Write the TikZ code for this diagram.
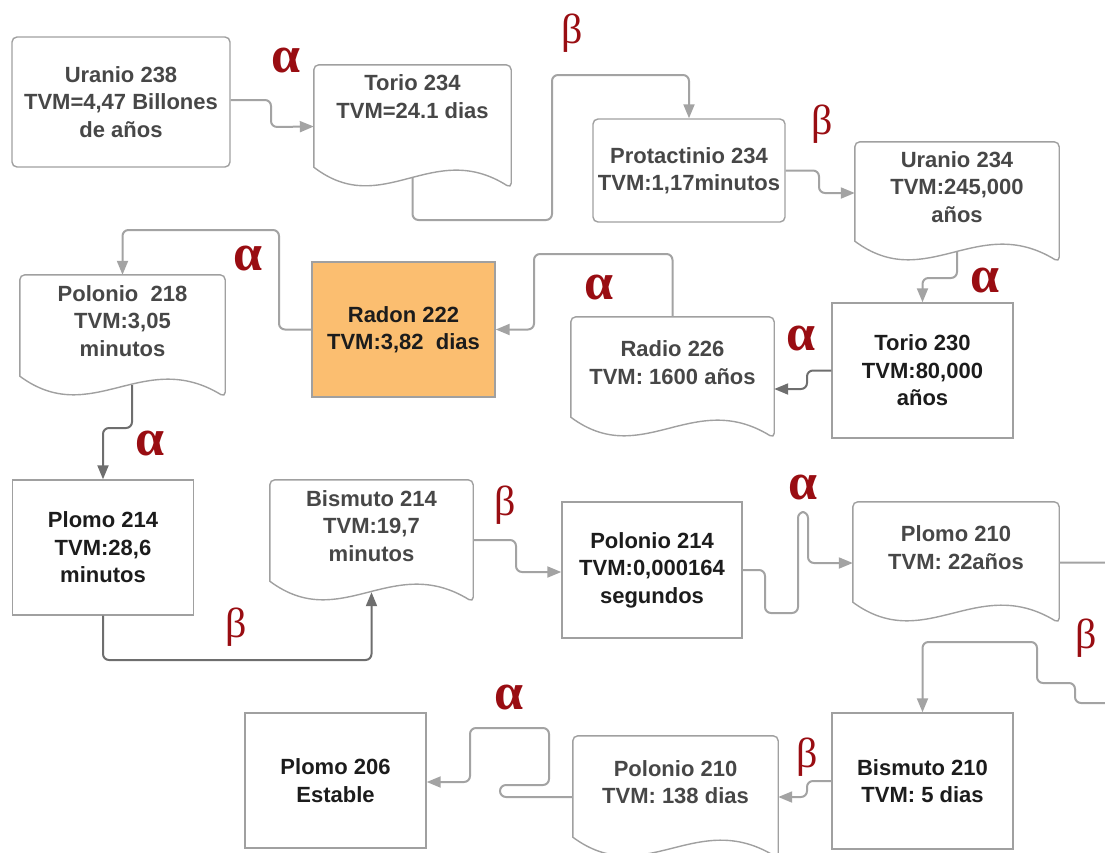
\documentclass[tikz,border=0pt]{standalone}
\usepackage{fontspec}
\setmainfont{Liberation Sans}
\newfontfamily\greekserif{Liberation Serif}
\usetikzlibrary{arrows.meta,calc}
\definecolor{boxgray}{HTML}{A0A0A0}
\definecolor{linegray}{HTML}{A3A3A3}
\definecolor{linedark}{HTML}{6E6E6E}
\definecolor{txtgray}{HTML}{474747}
\definecolor{txtdark}{HTML}{1C1C1C}
\definecolor{radonfill}{HTML}{FBBE70}
\definecolor{decayred}{HTML}{990D12}

\tikzset{
  base/.style={rectangle, inner sep=0pt, align=center,
               font=\bfseries\fontsize{22}{27.5}\selectfont},
  rbox/.style={base, draw=boxgray, line width=1.4pt, rounded corners=5pt, text=txtgray},
  sbox/.style={base, draw=boxgray, line width=1.4pt, text=txtdark},
  docbox/.style={base, text=txtgray, text depth=30pt,
    append after command={\pgfextra{
      \draw[boxgray, line width=1.4pt]
      ([yshift=21pt]\tikzlastnode.south west) [rounded corners=5pt]
      -- (\tikzlastnode.north west) -- (\tikzlastnode.north east)
      -- (\tikzlastnode.south east) [sharp corners]
      .. controls ($(\tikzlastnode.south west)!0.6!(\tikzlastnode.south east)+(0,-50)$)
      and ($(\tikzlastnode.south west)!0.35!(\tikzlastnode.south east)+(0,32)$)
      .. ([yshift=21pt]\tikzlastnode.south west) -- cycle;}}},
  flow/.style={draw=linegray, line width=2pt, rounded corners=6pt,
               -{Triangle[length=14pt,width=11pt]}},
  flowdark/.style={flow, draw=linedark},
  greek/.style={text=decayred, inner sep=0pt, font=\greekserif\fontsize{42}{42}\selectfont},
  greekbold/.style={greek, font=\greekserif\bfseries\fontsize{52}{52}\selectfont}
}

\begin{document}
\begin{tikzpicture}[x=1pt, y=-1pt]
\useasboundingbox (0,0) rectangle (1105,852);
\clip (0,0) rectangle (1105,852);

% fila 1
\node[rbox, minimum width=218pt, minimum height=130pt] (u238) at (121,102) {Uranio 238\\TVM=4,47 Billones\\de años};
\node[docbox, minimum width=197pt, minimum height=123pt, text depth=60pt] (t234) at (412.5,126.5) {Torio 234\\TVM=24.1 dias};
\node[rbox, minimum width=192pt, minimum height=103pt] (p234) at (689,170.5) {Protactinio 234\\TVM:1,17minutos};
\node[docbox, minimum width=204pt, minimum height=120pt] (u234) at (957,202) {Uranio 234\\TVM:245,000\\años};

% fila 2
\node[docbox, minimum width=205pt, minimum height=122pt] (po218) at (122.5,336) {Polonio~ 218\\TVM:3,05\\minutos};
\node[sbox, minimum width=183pt, minimum height=135pt, fill=radonfill] (ra222) at (403.5,329.5) {Radon 222\\TVM:3,82~ dias};
\node[docbox, minimum width=203pt, minimum height=121pt] (rd226) at (672.5,377.5) {Radio 226\\TVM: 1600 años};
\node[sbox, minimum width=181pt, minimum height=135pt] (t230) at (922.5,370.5) {Torio 230\\TVM:80,000\\años};

% fila 3
\node[sbox, minimum width=181pt, minimum height=135pt] (pb214) at (103,547.5) {Plomo 214\\TVM:28,6\\minutos};
\node[docbox, minimum width=203pt, minimum height=122pt] (bi214) at (371.5,541) {Bismuto 214\\TVM:19,7\\minutos};
\node[sbox, minimum width=180pt, minimum height=136pt] (po214) at (652,570) {Polonio 214\\TVM:0,000164\\segundos};
\node[docbox, minimum width=206pt, minimum height=121pt] (pb210) at (956,562.5) {Plomo 210\\TVM: 22años};

% fila 4
\node[sbox, minimum width=181pt, minimum height=135pt] (pb206) at (335.5,780.5) {Plomo 206\\Estable};
\node[docbox, minimum width=205pt, minimum height=122pt] (po210) at (675.5,797) {Polonio 210\\TVM: 138 dias};
\node[sbox, minimum width=181pt, minimum height=136pt] (bi210) at (922.5,781) {Bismuto 210\\TVM: 5 dias};

% desintegraciones
\draw[flow] (u238.east |- 0,100) -- (271,100) -- (271,127) -- (t234.west);
\draw[flow] ($(t234.south)+(0,-10)$) -- (412.5,220) -- (552,220) -- (552,75)
  -- (689,75) -- (p234.north);
\draw[flow] (p234.east) -- (819,170.5) -- (819,193) -- (u234.west |- 0,193);
\draw[flow] ($(u234.south)+(0,-10)$) -- (957,278) -- (922.5,278) -- (t230.north);
\draw[flowdark] (t230.west) -- (807,370.5) -- (807,389) -- (rd226.east |- 0,389);
\draw[flow] (rd226.north) -- (672.5,254) -- (534,254) -- (534,329.5) -- (ra222.east);
\draw[flow] (ra222.west) -- (279,329.5) -- (279,230) -- (122.5,230) -- (po218.north);
\draw[flowdark] ($(po218.south)+(9.5,-12)$) -- (132,428) -- (103,428) -- (pb214.north);
\draw[flowdark] (pb214.south) -- (103,660) -- (371.5,660) -- ($(bi214.south)+(0,-10)$);
\draw[flow] (bi214.east |- 0,540) -- (516,540) -- (516,572) -- (po214.west |- 0,572);
\draw[flow] (po214.east) -- (765,570) -- (765,613) -- (798,613) -- (798,512)
  -- (808,512) -- (808,563) -- (pb210.west |- 0,563);
\draw[flow] (pb210.east) -- (1125,562.5) -- (1125,703) -- (1075,703) -- (1075,683)
  -- (1037,683) -- (1037,642) -- (922.5,642) -- (bi210.north);
\draw[flow] (bi210.west) -- (807,781) -- (807,797) -- (po210.east |- 0,797);
\draw[flow] (po210.west |- 0,797) -- (500,797) -- (500,785) -- (549,785) -- (549,728)
  -- (470,728) -- (470,782) -- (pb206.east |- 0,782);

% alfa y beta
\node[greekbold] (dec1) at (286,60) {α};
\node[greek] (dec2) at (572,33) {β};
\node[greek] (dec3) at (822,124) {β};
\node[greekbold] (dec4) at (985,280) {α};
\node[greekbold] (dec5) at (801,338) {α};
\node[greekbold] (dec6) at (599,287) {α};
\node[greekbold] (dec7) at (248,258) {α};
\node[greekbold] (dec8) at (150,443) {α};
\node[greek] (dec9) at (236,627) {β};
\node[greek] (dec10) at (505,505) {β};
\node[greekbold] (dec11) at (803,487) {α};
\node[greek] (dec12) at (1086,638) {β};
\node[greek] (dec13) at (807,757) {β};
\node[greekbold] (dec14) at (509,697) {α};

\end{tikzpicture}
\end{document}
